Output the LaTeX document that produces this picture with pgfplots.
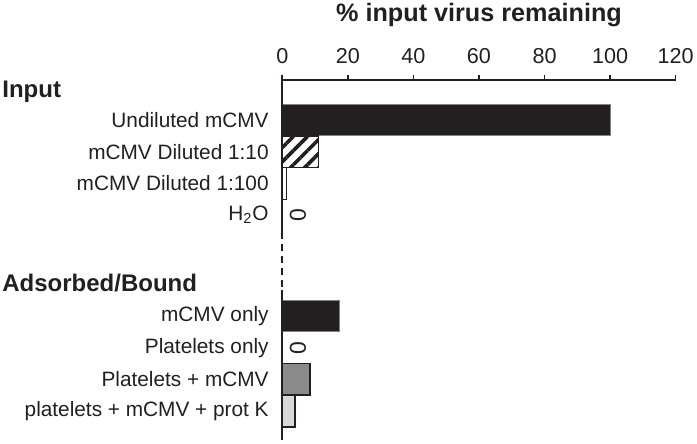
\documentclass[border=0pt]{standalone}
\usepackage{fontspec}
\setmainfont{Liberation Sans}
\usepackage{pgfplots}
\pgfplotsset{compat=1.18}
\usetikzlibrary{patterns.meta}
\definecolor{ink}{HTML}{231F20}
\definecolor{midgray}{HTML}{8A8A8A}
\definecolor{lightgray}{HTML}{D9D9D9}

\begin{document}
\begin{tikzpicture}
\useasboundingbox (-141.15pt,-2pt) rectangle (207.35pt,220pt);
\begin{axis}[
    at={(0,0)}, anchor=south west,
    scale only axis,
    width=196.7pt, height=180pt,
    xmin=0, xmax=120,
    ymin=-1.27, ymax=10.12,
    y dir=reverse,
    axis x line*=top,
    axis y line*=left,
    y axis line style={draw=none},
    x axis line style={line width=0.8pt, ink},
    xtick={0,20,...,120},
    tick align=outside,
    major tick length=2.5pt,
    xtick style={line width=0.8pt, ink},
    ytick={0,1,2,3,6.2,7.2,8.2,9.2},
    yticklabels={Undiluted mCMV, mCMV Diluted 1:10, mCMV Diluted 1:100,
        H\textsubscript{2}O, mCMV only, Platelets only, Platelets + mCMV,
        platelets + mCMV + prot K},
    ytick style={draw=none},
    xticklabel style={font=\fontsize{10.8}{12}\selectfont, text=ink, yshift=2pt},
    yticklabel style={anchor=east, xshift=-0.8pt,
        font=\fontsize{10.4}{12}\selectfont, text=ink},
    /pgf/number format/assume math mode=true,
    xlabel={\% input virus remaining},
    xlabel style={at={(axis description cs:0.5,1)}, anchor=center,
        yshift=32.5pt, font=\bfseries\fontsize{12.6}{14}\selectfont, text=ink},
    clip=false,
]

% Input
\addplot[xbar, bar width=1, bar shift=0pt, fill=ink, draw=gray, line width=0.5pt]
    coordinates {(100,0)};
\addplot[xbar, bar width=1, bar shift=0pt, draw=ink, line width=0.8pt,
    postaction={pattern={Lines[angle=45, distance=5pt, line width=1.8pt]}, pattern color=ink}]
    coordinates {(11,1)};
\addplot[xbar, bar width=1, bar shift=0pt, fill=white, draw=ink, line width=0.6pt]
    coordinates {(1.3,2)};
\addplot[xbar, bar width=1, bar shift=0pt, draw=none]
    coordinates {(0,3)};

% Adsorbed/Bound
\addplot[xbar, bar width=1, bar shift=0pt, fill=ink, draw=gray, line width=0.5pt]
    coordinates {(17.3,6.2)};
\addplot[xbar, bar width=1, bar shift=0pt, draw=none]
    coordinates {(0,7.2)};
\addplot[xbar, bar width=1, bar shift=0pt, fill=midgray, draw=ink, line width=0.8pt]
    coordinates {(8.4,8.2)};
\addplot[xbar, bar width=1, bar shift=0pt, fill=lightgray, draw=ink, line width=0.8pt]
    coordinates {(3.9,9.2)};

% zero labels
\node[rotate=90, font=\fontsize{11.5}{12}\selectfont, text=ink] at (axis cs:4.8,3) {0};
\node[rotate=90, font=\fontsize{11.5}{12}\selectfont, text=ink] at (axis cs:4.8,7.2) {0};

% broken y axis line
\draw[ink, line width=0.8pt] (axis cs:0,-1.27) -- (axis cs:0,3.54);
\draw[ink, line width=0.8pt, dash pattern=on 3.5pt off 2.5pt] (axis cs:0,3.54) -- (axis cs:0,5.38);
\draw[ink, line width=0.8pt] (axis cs:0,5.38) -- (axis cs:0,10.12);

% group headers
\node[anchor=west, inner sep=0pt, font=\bfseries\fontsize{12}{14}\selectfont, text=ink]
    at ([xshift=-140.15pt]axis cs:0,-0.886) {Input};
\node[anchor=west, inner sep=0pt, font=\bfseries\fontsize{12}{14}\selectfont, text=ink]
    at ([xshift=-140.15pt]axis cs:0,5.16) {Adsorbed/Bound};
\end{axis}
\end{tikzpicture}
\end{document}
